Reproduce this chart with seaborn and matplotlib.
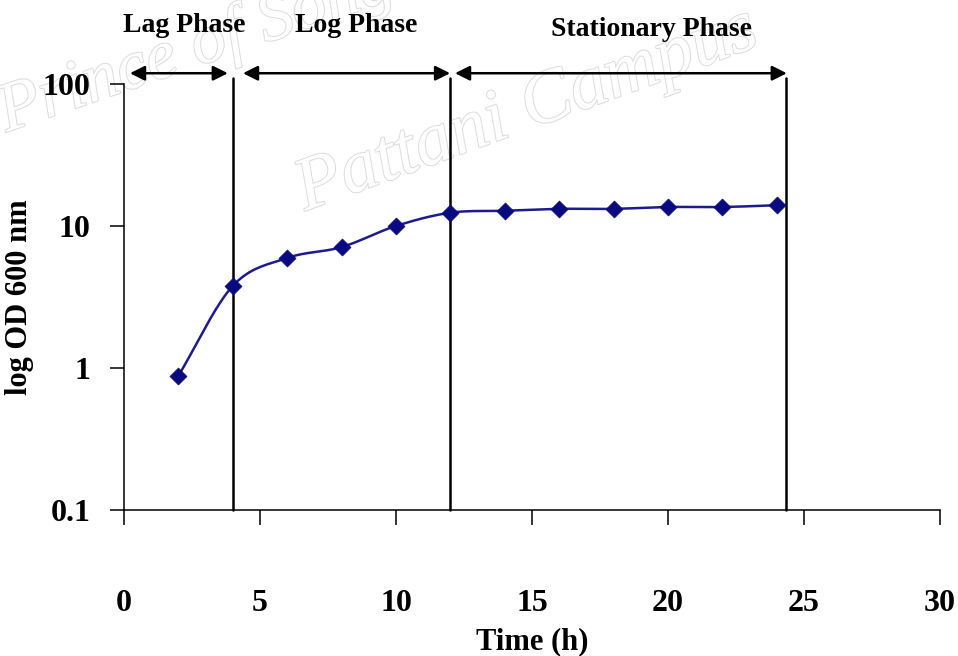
import numpy as np
import pandas as pd
import matplotlib
matplotlib.use("Agg")
import matplotlib.pyplot as plt
import matplotlib.patheffects as pe
import seaborn as sns

# ---- data ----
time_h = [2, 4, 6, 8, 10, 12, 14, 16, 18, 20, 22, 24]
od600 = [0.88, 3.78, 5.95, 7.1, 10.0, 12.4, 12.8, 13.2, 13.2, 13.6, 13.6, 14.0]
x_ticks = [0, 5, 10, 15, 20, 25, 30]
y_ticks = [0.1, 1, 10, 100]
y_tick_labels = ["0.1", "1", "10", "100"]
phase_names = ["Lag Phase", "Log Phase", "Stationary Phase"]
phase_start = [0.22, 4.375, 12.17]
phase_end = [3.82, 11.99, 24.37]
phase_label_x = [2.2, 8.55, 19.4]
phase_label_y = [260, 260, 240]
phase_lines = [4.0, 12.0, 24.35]

sns.set_style("white")
plt.rcParams["font.family"] = ["Liberation Serif", "DejaVu Serif"]
plt.rcParams["font.weight"] = "bold"
plt.rcParams["text.color"] = "black"
plt.rcParams["axes.labelcolor"] = "black"
plt.rcParams["xtick.color"] = "black"
plt.rcParams["ytick.color"] = "black"

fig = plt.figure(figsize=(9.58, 6.56), dpi=100)
ax = fig.add_axes([0.1294, 0.2226, 0.8518, 0.6494])
ax.patch.set_visible(False)

df = pd.DataFrame({"Time (h)": time_h, "OD": od600})

# smoothed line (Catmull-Rom through the points, in log space)
xs = np.array(time_h, float)
ys = np.log10(np.array(od600, float))
px = np.concatenate([[2 * xs[0] - xs[1]], xs, [2 * xs[-1] - xs[-2]]])
py = np.concatenate([[2 * ys[0] - ys[1]], ys, [2 * ys[-1] - ys[-2]]])
cx, cy = [], []
t = np.linspace(0, 1, 20)
for i in range(1, len(px) - 2):
    for P, out in ((px, cx), (py, cy)):
        p0, p1, p2, p3 = P[i - 1], P[i], P[i + 1], P[i + 2]
        out.extend(0.5 * ((2 * p1) + (-p0 + p2) * t + (2 * p0 - 5 * p1 + 4 * p2 - p3) * t ** 2
                          + (-p0 + 3 * p1 - 3 * p2 + p3) * t ** 3))
ax.plot(cx, 10 ** np.array(cy), color="#1c1c8f", lw=1.8, zorder=3)
sns.scatterplot(data=df, x="Time (h)", y="OD", marker="D", s=75, color="#0a0a80",
                edgecolor="#0a0a80", linewidth=0.5, ax=ax, zorder=4, legend=False)

ax.set_yscale("log")
ax.set_xlim(0, 30)
ax.set_ylim(0.1, 100)
ax.set_xticks(x_ticks)
ax.set_xticklabels([str(v) for v in x_ticks])
ax.set_yticks(y_ticks)
ax.set_yticklabels(y_tick_labels)
ax.minorticks_off()
ax.tick_params(axis="x", length=11, width=1.1, pad=46, labelsize=23, direction="out", bottom=True)
ax.tick_params(axis="y", length=10, width=1.1, pad=14, labelsize=23, direction="out", left=True)
for lab in ax.get_xticklabels() + ax.get_yticklabels():
    lab.set_fontweight("bold")

for s in ["top", "right"]:
    ax.spines[s].set_visible(False)
for s in ["left", "bottom"]:
    ax.spines[s].set_linewidth(1.1)
    ax.spines[s].set_color("black")

ax.set_xlabel("Time (h)", fontsize=22, fontweight="bold")
ax.set_ylabel("log OD 600 nm", fontsize=22, fontweight="bold")
ax.xaxis.set_label_coords(0.5, -0.275)
ax.yaxis.set_label_coords(-0.11, 0.5)

# phase lines and arrows
arrow_y = 119
for xv in phase_lines:
    ax.plot([xv, xv], [0.1, 110], color="black", lw=1.8, clip_on=False, zorder=2)
for x0, x1 in zip(phase_start, phase_end):
    ax.annotate("", xy=(x1, arrow_y), xytext=(x0, arrow_y), xycoords="data",
                arrowprops=dict(arrowstyle="<|-|>", color="black", lw=1.8,
                                mutation_scale=22, shrinkA=0, shrinkB=0),
                annotation_clip=False)
for name, lx, yv in zip(phase_names, phase_label_x, phase_label_y):
    ax.text(lx, yv, name, ha="center", va="center", fontsize=20, fontweight="bold",
            clip_on=False)

# watermark (behind everything)
wm_eff = [pe.withStroke(linewidth=1.4, foreground="#dcdcdc")]
fig.text(-0.01, 0.80, "Prince of Songkla", fontsize=50, style="italic",
         fontweight="normal", color="white", rotation=19, path_effects=wm_eff, zorder=-5)
fig.text(0.30, 0.68, "Pattani Campus", fontsize=54, style="italic",
         fontweight="normal", color="white", rotation=20, path_effects=wm_eff, zorder=-5)

fig.savefig("out.png", dpi=100)
